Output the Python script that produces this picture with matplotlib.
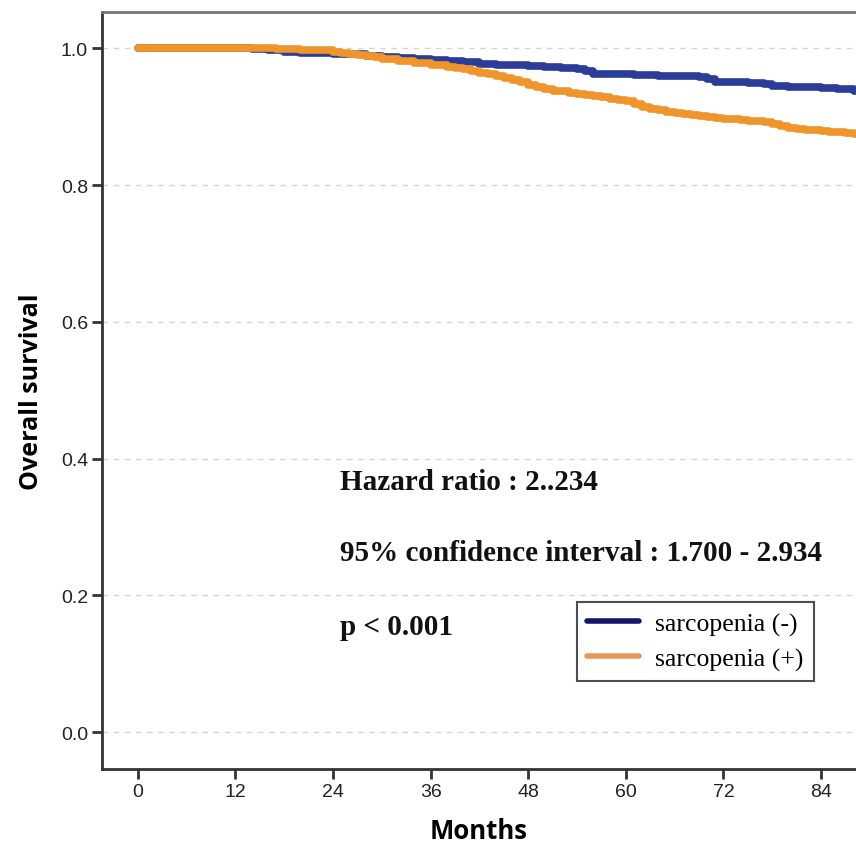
import matplotlib
matplotlib.use("Agg")
import matplotlib.pyplot as plt

# Kaplan-Meier step data
t_neg = [0, 14, 16, 18, 20, 24, 26, 28, 30, 32, 34, 36, 38, 40, 42, 44, 46, 48, 50, 52, 54, 55, 56, 58,
         61, 64, 67, 69, 70, 71, 73, 75, 77, 78, 80, 82, 84, 86, 88, 89]
s_neg = [1.0, 0.999, 0.997, 0.995, 0.993, 0.992, 0.991, 0.989, 0.987, 0.986, 0.984, 0.983, 0.982, 0.980,
         0.977, 0.976, 0.975, 0.974, 0.973, 0.971, 0.970, 0.966, 0.963, 0.962, 0.961, 0.960, 0.959, 0.958,
         0.955, 0.951, 0.950, 0.949, 0.948, 0.945, 0.944, 0.943, 0.942, 0.940, 0.938, 0.938]

t_pos = [0, 17, 20, 22, 24, 25, 26, 27, 28, 29, 30, 31, 32, 33, 34, 35, 36, 37, 38, 39, 40, 41, 42, 43, 44,
         45, 46, 47, 48, 49, 50, 51, 52, 53, 54, 55, 56, 57, 58, 59, 60, 61, 62, 63, 64, 65, 66, 67, 68, 69,
         70, 71, 72, 73, 74, 75, 76, 77, 78, 79, 80, 81, 82, 83, 84, 85, 86, 87, 88, 89]
s_pos = [1.0, 0.999, 0.998, 0.997, 0.995, 0.993, 0.991, 0.990, 0.988, 0.987, 0.985, 0.984, 0.982, 0.981,
         0.979, 0.978, 0.976, 0.975, 0.973, 0.971, 0.969, 0.966, 0.964, 0.962, 0.959, 0.957, 0.953, 0.950,
         0.946, 0.944, 0.941, 0.938, 0.937, 0.935, 0.933, 0.932, 0.930, 0.928, 0.926, 0.925, 0.923, 0.918,
         0.914, 0.911, 0.909, 0.907, 0.906, 0.904, 0.903, 0.901, 0.900, 0.898, 0.897, 0.896, 0.895, 0.894,
         0.893, 0.892, 0.889, 0.886, 0.883, 0.882, 0.881, 0.880, 0.879, 0.878, 0.877, 0.876, 0.875, 0.874]

x_ticks = [0, 12, 24, 36, 48, 60, 72, 84]
y_ticks = [0.0, 0.2, 0.4, 0.6, 0.8, 1.0]
labels = ["sarcopenia (-)", "sarcopenia (+)"]
annot = ["Hazard ratio : 2..234", "95% confidence interval : 1.700 - 2.934", "p < 0.001"]

c_neg = "#2c3d99"
c_pos = "#f0952c"

fig = plt.figure(figsize=(8.56, 8.54), dpi=100)
ax = fig.add_axes([102/856, 1 - 770/854, 1 - 102/856, (770 - 13)/854])

ax.step(t_neg, s_neg, where="post", color=c_neg, lw=5.5, label=labels[0], solid_capstyle="round")
ax.step(t_pos, s_pos, where="post", color=c_pos, lw=5.5, label=labels[1], solid_capstyle="round")

ax.set_xlim(-4.4, 88.3)
ax.set_ylim(-0.054, 1.053)
ax.set_xticks(x_ticks)
ax.set_yticks(y_ticks)
ax.set_xticklabels([str(v) for v in x_ticks], fontsize=14, family="Liberation Sans", color="#222222")
ax.set_yticklabels([f"{v:.1f}" for v in y_ticks], fontsize=14, family="Liberation Sans", color="#222222")
ax.tick_params(axis="both", length=7, width=2, color="#333333", pad=3)

ax.grid(axis="y", linestyle=(0, (4, 4)), color="#d4d4d4", lw=1)
ax.set_axisbelow(True)

for side in ["left", "bottom"]:
    ax.spines[side].set_color("#333333")
    ax.spines[side].set_linewidth(2)
ax.spines["top"].set_color("#777777")
ax.spines["top"].set_linewidth(2)
ax.spines["right"].set_visible(False)

ax.set_xlabel("Months", fontsize=18.5, fontweight="bold", family="Open Sans", labelpad=12)
ax.set_ylabel("Overall survival", fontsize=18, fontweight="bold", family="Open Sans", labelpad=12)

for txt, yv in zip(annot, [0.366, 0.263, 0.154]):
    ax.text(24.9, yv, txt, fontsize=21, fontweight="bold", family="Liberation Serif",
            va="center", ha="left", color="#111111")

leg = ax.legend(loc="upper left", bbox_to_anchor=((577 - 102) / 754, 1 - (603 - 13) / 757),
                borderaxespad=0,
                prop={"family": "Liberation Serif", "size": 18.5}, frameon=True, fancybox=False,
                edgecolor="#222222", handlelength=2.0, borderpad=0.4, labelspacing=0.45,
                handletextpad=0.65)
leg.get_frame().set_linewidth(1.5)
leg.get_lines()[0].set_color("#14166b")
leg.get_lines()[1].set_color("#e8955a")
for l in leg.get_lines():
    l.set_linewidth(4)

fig.savefig("out.png", dpi=100)
